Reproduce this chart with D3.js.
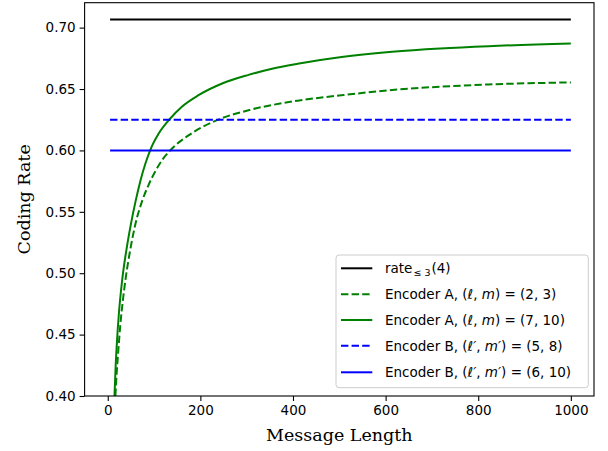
<!DOCTYPE html>
<html>
<head>
<meta charset="utf-8">
<script src="https://cdn.jsdelivr.net/npm/d3@7"></script>
<style>
  html, body { margin: 0; padding: 0; background: #fff; }
  svg { display: block; }
</style>
</head>
<body>
<svg id="chart" width="608" height="451"></svg>
<script>
// ---- data ----
const xTicks = [0, 200, 400, 600, 800, 1000];
const yTicks = [0.40, 0.45, 0.50, 0.55, 0.60, 0.65, 0.70];

const hLineX = [5, 1000];
const rateLimit = 0.7066;      // rate_{<=3}(4)
const encB58 = 0.625;          // Encoder B (5,8)
const encB610 = 0.60;          // Encoder B (6,10)

const encA23_x = [16.5, 19, 22, 27.4, 33, 38, 50, 60, 74, 88.5, 103, 120, 140, 175, 240, 304, 410, 509, 614, 718, 822, 1000];
const encA23_y = [0.400, 0.417, 0.433, 0.459, 0.479, 0.494, 0.522, 0.5405, 0.5585, 0.5722, 0.5832, 0.5935, 0.6020, 0.6124, 0.6253, 0.6327, 0.6405, 0.6451, 0.6492, 0.6519, 0.6537, 0.6554];

const encA710_x = [14.5, 17, 20, 24, 31, 42, 50, 60, 71, 81.5, 92, 110, 135, 160, 196, 247, 304, 355, 410, 509, 614, 718, 822, 1000];
const encA710_y = [0.400, 0.424, 0.445, 0.467, 0.494, 0.523, 0.540, 0.5585, 0.576, 0.5895, 0.6005, 0.6137, 0.626, 0.6356, 0.645, 0.6545, 0.6615, 0.6665, 0.6705, 0.6762, 0.6803, 0.6830, 0.6849, 0.6870];

// ---- layout ----
const svg = d3.select("#chart");
const L = 84.6, R = 594, T = 2.7, B = 396;
const x = d3.scaleLinear().domain([-50, 1050]).range([L, R]);
const y = d3.scaleLinear().domain([0.40, 0.7203]).range([B, T]);

svg.append("defs").append("clipPath").attr("id", "clip")
  .append("rect").attr("x", L).attr("y", T).attr("width", R - L).attr("height", B - T);

const plot = svg.append("g").attr("clip-path", "url(#clip)");
const line = d3.line().x(d => x(d[0])).y(d => y(d[1])).curve(d3.curveMonotoneX);
const DASH = "7.4,3.2";

const series = [
  { name: "rate", pts: hLineX.map(v => [v, rateLimit]), color: "#000000", dash: null },
  { name: "A23", pts: encA23_x.map((v, i) => [v, encA23_y[i]]), color: "#008000", dash: DASH },
  { name: "A710", pts: encA710_x.map((v, i) => [v, encA710_y[i]]), color: "#008000", dash: null },
  { name: "B58", pts: hLineX.map(v => [v, encB58]), color: "#0000ff", dash: DASH },
  { name: "B610", pts: hLineX.map(v => [v, encB610]), color: "#0000ff", dash: null }
];

series.forEach(s => {
  plot.append("path").datum(s.pts)
    .attr("d", line)
    .attr("fill", "none")
    .attr("stroke", s.color)
    .attr("stroke-width", 2)
    .attr("stroke-dasharray", s.dash);
});

// ---- axes ----
const fs = "13.5px";
const xAxis = svg.append("g").attr("transform", `translate(0,${B})`)
  .call(d3.axisBottom(x).tickValues(xTicks).tickSize(5).tickPadding(4).tickFormat(d3.format("d")));
const yAxis = svg.append("g").attr("transform", `translate(${L},0)`)
  .call(d3.axisLeft(y).tickValues(yTicks).tickSize(5).tickPadding(4).tickFormat(d3.format(".2f")));
[xAxis, yAxis].forEach(a => {
  a.select(".domain").remove();
  a.selectAll("line").attr("stroke", "#000").attr("stroke-width", 1.1);
  a.selectAll("text").style("font-family", "'DejaVu Sans'").style("font-size", fs).attr("fill", "#000");
});

svg.append("rect").attr("x", L).attr("y", T).attr("width", R - L).attr("height", B - T)
  .attr("fill", "none").attr("stroke", "#000").attr("stroke-width", 1.1);

svg.append("text").attr("x", (L + R) / 2).attr("y", 441)
  .attr("text-anchor", "middle").style("font-family", "'DejaVu Serif'").style("font-size", "17.5px")
  .text("Message Length");
svg.append("text").attr("transform", `translate(30,${(T + B) / 2}) rotate(-90)`)
  .attr("text-anchor", "middle").style("font-family", "'DejaVu Serif'").style("font-size", "17.5px")
  .text("Coding Rate");

// ---- legend ----
const lg = svg.append("g");
lg.append("rect").attr("x", 336).attr("y", 255).attr("width", 252.3).attr("height", 132.7)
  .attr("rx", 3).attr("fill", "#fff").attr("fill-opacity", 0.8)
  .attr("stroke", "#cccccc").attr("stroke-width", 1);

const rowsY = [268.3, 294.3, 320, 345.7, 372.3];
const labels = [
  [["rate", ""], ["≤ 3", "sub"], ["(4)", "up"]],
  [["Encoder A, (", ""], ["ℓ", "i"], [", ", ""], ["m", "i"], [") = (2, 3)", ""]],
  [["Encoder A, (", ""], ["ℓ", "i"], [", ", ""], ["m", "i"], [") = (7, 10)", ""]],
  [["Encoder B, (", ""], ["ℓ′", "i"], [", ", ""], ["m′", "i"], [") = (5, 8)", ""]],
  [["Encoder B, (", ""], ["ℓ′", "i"], [", ", ""], ["m′", "i"], [") = (6, 10)", ""]]
];
series.forEach((s, i) => {
  const yy = rowsY[i];
  lg.append("line").attr("x1", 341).attr("x2", 372.3).attr("y1", yy).attr("y2", yy)
    .attr("stroke", s.color).attr("stroke-width", 2).attr("stroke-dasharray", s.dash);
  const t = lg.append("text").attr("x", 385).attr("y", yy + 4.8)
    .style("font-family", "'DejaVu Sans'").style("font-size", fs).attr("fill", "#000");
  labels[i].forEach(([str, kind]) => {
    const sp = t.append("tspan").text(str);
    if (kind === "i") sp.style("font-style", "italic");
    if (kind === "sub") sp.style("font-size", "9.5px").attr("dy", 3).attr("dx", 1);
    if (kind === "up") sp.attr("dy", -3).attr("dx", 1);
  });
});
</script>
</body>
</html>
